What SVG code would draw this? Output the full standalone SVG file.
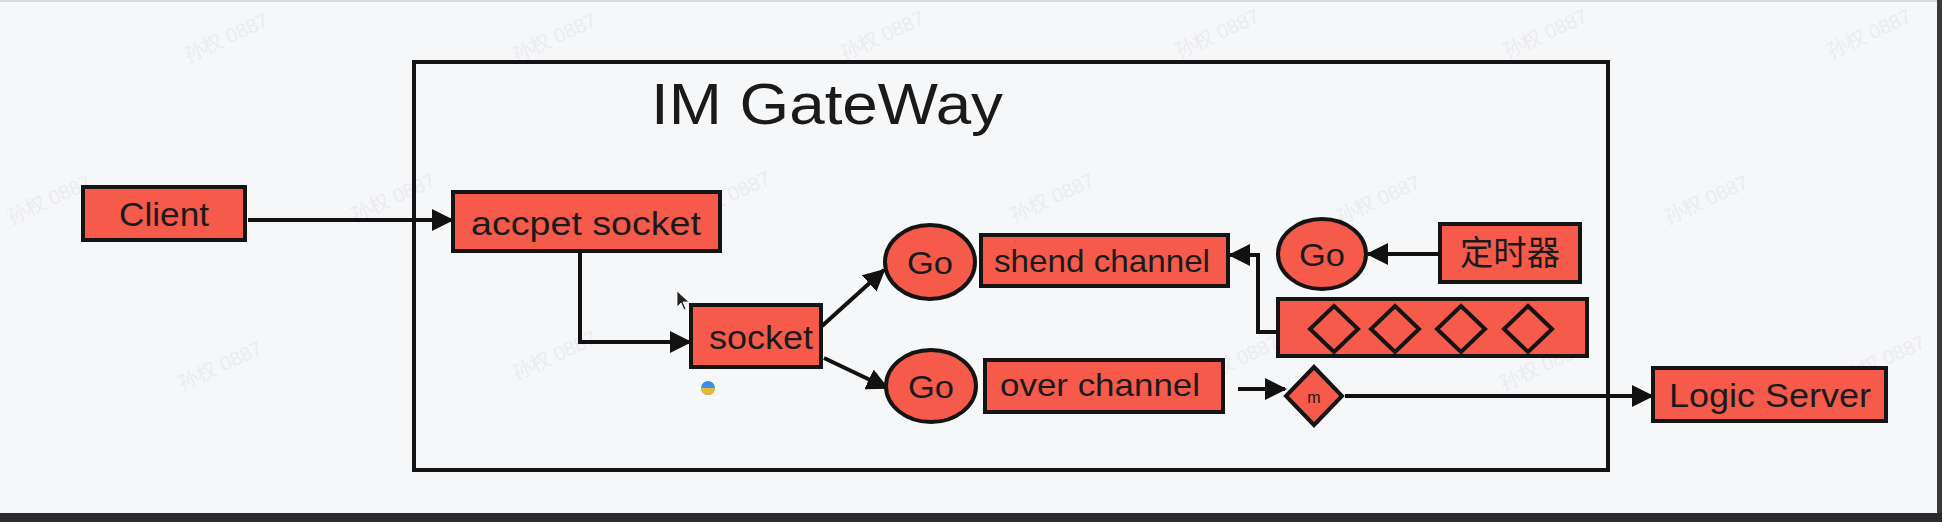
<svg xmlns="http://www.w3.org/2000/svg" width="1942" height="522" viewBox="0 0 1942 522">
  <defs>
    <marker id="arrow" markerUnits="userSpaceOnUse" markerWidth="22" markerHeight="22" refX="20" refY="11" orient="auto">
      <path d="M0,0 L22,11 L0,22 Z" fill="#111"/>
    </marker>
    <style>
      .bg { fill: #f6f7f9; }
      .node { fill: #f55a4a; stroke: #141414; stroke-width: 4; }
      .frame { fill: none; stroke: #141414; stroke-width: 4; }
      .lbl { font-family: "Liberation Sans", "Noto Sans CJK SC", sans-serif; fill: #1a1a1a; text-anchor: middle; dominant-baseline: central; }
      .conn { fill: none; stroke: #111; stroke-width: 4; }
      .wm { font-family: "Liberation Sans", "Noto Sans CJK SC", sans-serif; fill: #eaecef; font-size: 20px; text-anchor: middle; }
    </style>
  </defs>

  <rect class="bg" x="0" y="0" width="1942" height="522"/>
  <rect x="0" y="0" width="1942" height="2" fill="#d9dadc"/>
  <rect x="1937" y="0" width="5" height="513" fill="#3a3a3e"/>
  <rect x="0" y="513" width="1942" height="9" fill="#2b2b2f"/>

  <g id="watermarks">
    <text class="wm" transform="translate(229,44) rotate(-25)">孙权 0887</text>
    <text class="wm" transform="translate(557,44) rotate(-25)">孙权 0887</text>
    <text class="wm" transform="translate(885,42) rotate(-25)">孙权 0887</text>
    <text class="wm" transform="translate(1220,40) rotate(-25)">孙权 0887</text>
    <text class="wm" transform="translate(1548,40) rotate(-25)">孙权 0887</text>
    <text class="wm" transform="translate(1872,40) rotate(-25)">孙权 0887</text>
    <text class="wm" transform="translate(52,206) rotate(-25)">孙权 0887</text>
    <text class="wm" transform="translate(396,204) rotate(-25)">孙权 0887</text>
    <text class="wm" transform="translate(731,202) rotate(-25)">孙权 0887</text>
    <text class="wm" transform="translate(1055,204) rotate(-25)">孙权 0887</text>
    <text class="wm" transform="translate(1381,206) rotate(-25)">孙权 0887</text>
    <text class="wm" transform="translate(1709,206) rotate(-25)">孙权 0887</text>
    <text class="wm" transform="translate(223,372) rotate(-25)">孙权 0887</text>
    <text class="wm" transform="translate(557,362) rotate(-25)">孙权 0887</text>
    <text class="wm" transform="translate(1240,366) rotate(-25)">孙权 0887</text>
    <text class="wm" transform="translate(1545,372) rotate(-25)">孙权 0887</text>
    <text class="wm" transform="translate(1886,366) rotate(-25)">孙权 0887</text>
  </g>

  <g id="gateway">
    <rect class="frame" x="414" y="62" width="1194" height="408"/>
    <text class="lbl" x="827" y="103" font-size="58" textLength="352" lengthAdjust="spacingAndGlyphs">IM GateWay</text>
  </g>

  <g id="connectors">
    <path class="conn" d="M248,220 L452,220" marker-end="url(#arrow)"/>
    <path class="conn" d="M580,252 L580,342 L690,342" marker-end="url(#arrow)"/>
    <path class="conn" d="M822,326 L884,270" marker-end="url(#arrow)"/>
    <path class="conn" d="M824,358 L887,388" marker-end="url(#arrow)"/>
    <path class="conn" d="M1438,254 L1368,254" marker-end="url(#arrow)"/>
    <path class="conn" d="M1311,332 L1258,332 L1258,255 L1230,255" marker-end="url(#arrow)" stroke-width="3"/>
    <path class="conn" d="M1238,389 L1285,389" marker-end="url(#arrow)"/>
    <path class="conn" d="M1345,396 L1652,396" marker-end="url(#arrow)"/>
  </g>

  <g id="client">
    <rect class="node" x="83" y="187" width="162" height="53"/>
    <text class="lbl" x="164" y="214" font-size="34" textLength="90" lengthAdjust="spacingAndGlyphs">Client</text>
  </g>

  <g id="accept-socket">
    <rect class="node" x="453" y="192" width="267" height="59"/>
    <text class="lbl" x="586" y="223" font-size="34" textLength="230" lengthAdjust="spacingAndGlyphs">accpet socket</text>
  </g>

  <g id="socket">
    <rect class="node" x="691" y="305" width="130" height="62"/>
    <text class="lbl" x="761" y="337" font-size="34" textLength="104" lengthAdjust="spacingAndGlyphs">socket</text>
  </g>

  <g id="go-send">
    <ellipse class="node" cx="930" cy="262" rx="45" ry="37"/>
    <text class="lbl" x="930" y="263" font-size="32" textLength="46" lengthAdjust="spacingAndGlyphs">Go</text>
  </g>

  <g id="send-channel">
    <rect class="node" x="981" y="235" width="247" height="51"/>
    <text class="lbl" x="1102" y="261" font-size="32" textLength="216" lengthAdjust="spacingAndGlyphs">shend channel</text>
  </g>

  <g id="go-timer">
    <ellipse class="node" cx="1322" cy="254" rx="44" ry="35"/>
    <text class="lbl" x="1322" y="255" font-size="32" textLength="46" lengthAdjust="spacingAndGlyphs">Go</text>
  </g>

  <g id="timer">
    <rect class="node" x="1440" y="224" width="140" height="58"/>
    <text class="lbl" x="1510" y="253" font-size="34" textLength="100" lengthAdjust="spacingAndGlyphs">定时器</text>
  </g>

  <g id="queue">
    <rect class="node" x="1278" y="299" width="309" height="57"/>
    <path class="node" d="M1334,306 L1358,329 L1334,352 L1310,329 Z" fill="none" stroke-width="3.5"/>
    <path class="node" d="M1395,306 L1419,329 L1395,352 L1371,329 Z" fill="none" stroke-width="3.5"/>
    <path class="node" d="M1461,306 L1485,329 L1461,352 L1437,329 Z" fill="none" stroke-width="3.5"/>
    <path class="node" d="M1528,306 L1552,329 L1528,352 L1504,329 Z" fill="none" stroke-width="3.5"/>
  </g>

  <g id="go-over">
    <ellipse class="node" cx="931" cy="386" rx="45" ry="36"/>
    <text class="lbl" x="931" y="387" font-size="32" textLength="46" lengthAdjust="spacingAndGlyphs">Go</text>
  </g>

  <g id="over-channel">
    <rect class="node" x="985" y="360" width="238" height="52"/>
    <text class="lbl" x="1100" y="385" font-size="32" textLength="200" lengthAdjust="spacingAndGlyphs">over channel</text>
  </g>

  <g id="message">
    <path class="node" d="M1314,367 L1342,396 L1314,425 L1286,396 Z" stroke-width="3.5"/>
    <text class="lbl" x="1314" y="397" font-size="16">m</text>
  </g>

  <g id="logic-server">
    <rect class="node" x="1653" y="368" width="233" height="53"/>
    <text class="lbl" x="1770" y="395" font-size="34" textLength="202" lengthAdjust="spacingAndGlyphs">Logic Server</text>
  </g>

  <g id="screen-artifacts">
    <path d="M677,291 L677,307 L681,303 L684,310 L686,309 L683,302 L689,302 Z" fill="#222" stroke="#fff" stroke-width="0.8"/>
    <circle cx="708" cy="388" r="7" fill="#3a8ee6"/>
    <path d="M701,388 A7,7 0 0 0 715,388 Z" fill="#e8b830"/>
  </g>
</svg>
